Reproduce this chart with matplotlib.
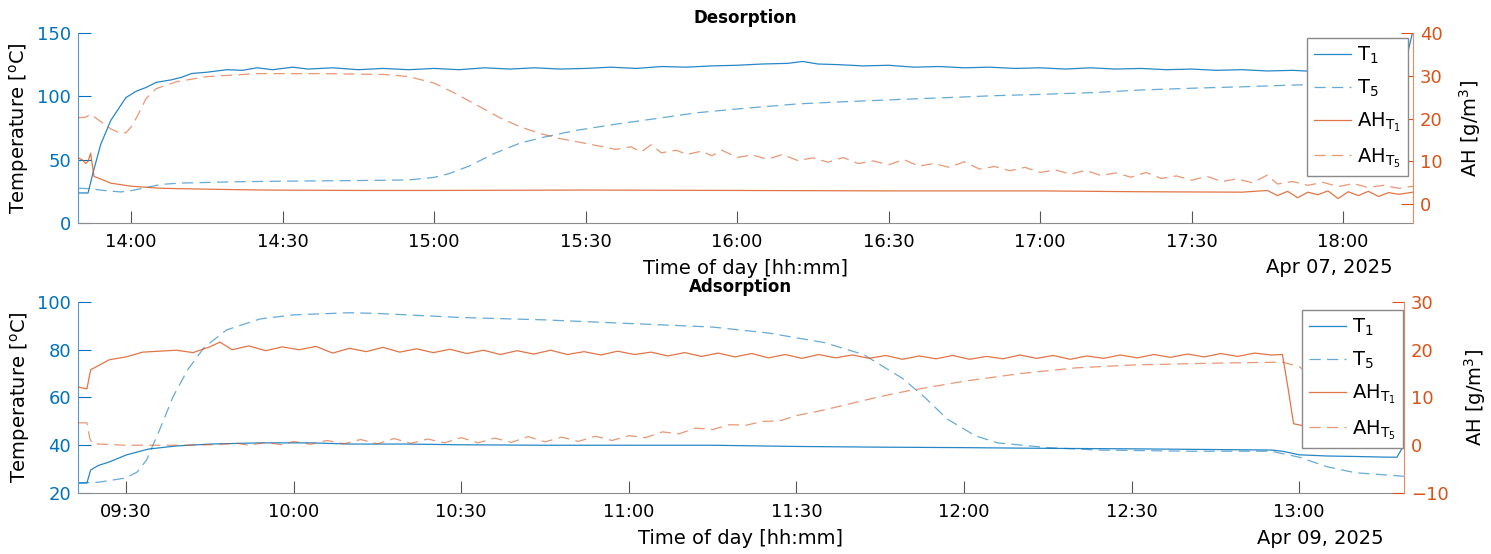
import matplotlib.dates as mdates
import matplotlib.pyplot as plt
import pandas as pd

BLUE = "#0072BD"
ORANGE = "#D95319"

plt.rcParams["font.family"] = "DejaVu Sans"
plt.rcParams["mathtext.default"] = "regular"

# ---- Desorption, 7 April 2025 ----
des_day = "2025-04-07"
des_xlim = ("13:49:30", "18:13:50")

des_t1_time = ["13:49:30", "13:51:30", "13:52:30", "13:54", "13:56", "13:58", "13:59",
               "14:01", "14:03", "14:05", "14:08", "14:10", "14:12", "14:15", "14:19",
               "14:22", "14:25", "14:28", "14:32", "14:35", "14:40", "14:45", "14:50",
               "14:55", "15:00", "15:05", "15:10", "15:15", "15:20", "15:25", "15:30",
               "15:35", "15:40", "15:45", "15:50", "15:55", "16:00", "16:05", "16:10",
               "16:13", "16:16", "16:20", "16:25", "16:30", "16:35", "16:40", "16:45",
               "16:50", "16:55", "17:00", "17:05", "17:10", "17:15", "17:20", "17:25",
               "17:30", "17:35", "17:40", "17:45", "17:50", "17:55", "18:00", "18:05",
               "18:10", "18:12", "18:13:50"]
des_t1 = [23.7, 23.7, 40, 62, 81, 93, 99,
          104, 107, 111, 113, 115, 118, 119, 121,
          120.5, 122.5, 121, 123, 121.5, 122.5, 121, 122,
          121, 122, 121, 122.5, 121.5, 122.5, 121.5, 122,
          123, 122, 123.5, 123, 124, 124.5, 125.5, 126,
          127.5, 125.5, 125, 124, 124.5, 123, 123.5, 122.5,
          123, 122, 122.5, 121.5, 122.5, 121.5, 122, 121,
          121.5, 120.5, 121, 120, 120.5, 119.5, 120.5, 119.5,
          120.5, 121, 152]

des_t5_time = ["13:49:30", "13:52", "13:55", "13:58", "14:00", "14:03", "14:06", "14:10",
               "14:20", "14:30", "14:45", "14:55", "15:00", "15:03", "15:07", "15:12",
               "15:17", "15:22", "15:28", "15:36", "15:45", "15:52", "16:00", "16:12",
               "16:20", "16:32", "16:45", "16:51", "17:00", "17:11", "17:20", "17:31",
               "17:40", "17:51", "18:00", "18:10", "18:11", "18:12"]
des_t5 = [27.5, 27, 25.5, 24.5, 25.5, 28, 30.5, 31.5,
          32.5, 33, 33.5, 34, 36, 39, 45, 55,
          63, 68, 73, 78, 83, 87, 90, 94,
          95.5, 97.5, 99.5, 100.5, 101.5, 103, 105, 106.5,
          107.5, 109, 109.5, 110.5, 104, 92]

des_ah1_time = ["13:49:30", "13:50:30", "13:51", "13:51:30", "13:52", "13:52:40", "13:55",
                "13:56", "14:00", "14:06", "14:15", "14:26", "14:45", "15:00", "15:30",
                "16:00", "16:30", "17:00", "17:20", "17:40", "17:45", "17:47", "17:49",
                "17:51", "17:53", "17:55", "17:57", "17:59", "18:01", "18:03", "18:05",
                "18:07", "18:09", "18:11", "18:13:50"]
des_ah1 = [10.9, 10.2, 9.5, 10.0, 11.9, 6.5, 5.4,
           4.9, 4.2, 3.7, 3.5, 3.3, 3.2, 3.2, 3.3,
           3.2, 3.1, 3.1, 2.9, 2.8, 3.2, 2.0, 3.0,
           1.5, 2.8, 2.2, 3.1, 1.3, 2.9, 2.0, 3.0,
           1.8, 2.7, 2.3, 2.8]

des_ah5_time = ["13:49:30", "13:51", "13:52", "13:54", "13:56", "13:58", "13:59", "14:00",
                "14:01", "14:03", "14:05", "14:09", "14:15", "14:25", "14:38", "14:50",
                "14:55", "15:00", "15:04", "15:09", "15:13", "15:17", "15:21", "15:25",
                "15:30", "15:36", "15:39", "15:41", "15:43", "15:45", "15:48", "15:50",
                "15:53", "15:55", "15:57", "16:00", "16:03", "16:06", "16:09", "16:12",
                "16:15", "16:18", "16:21", "16:24", "16:27", "16:30", "16:33", "16:36",
                "16:39", "16:42", "16:45", "16:48", "16:51", "16:54", "16:57", "17:00",
                "17:03", "17:06", "17:09", "17:12", "17:15", "17:18", "17:21", "17:24",
                "17:27", "17:30", "17:33", "17:36", "17:39", "17:42", "17:45", "17:47",
                "17:50", "17:53", "17:56", "17:59", "18:02", "18:05", "18:08", "18:11",
                "18:13:50"]
des_ah5 = [20.2, 20.3, 21, 19.3, 17.6, 16.5, 16.7, 18.0,
           20, 24.7, 27, 28.6, 29.8, 30.5, 30.5, 30.3,
           29.8, 28.3, 26, 22.8, 20.2, 18.1, 16.5, 15.3,
           14.2, 12.8, 13.4, 12.2, 13.9, 12.0, 12.6, 11.6,
           12.4, 11.3, 12.6, 10.9, 11.5, 10.5, 11.6, 10.2,
           10.8, 9.8, 10.9, 9.5, 10.1, 9.2, 10.4, 8.9,
           9.5, 8.6, 9.9, 8.2, 8.8, 7.8, 8.6, 7.4,
           8.0, 7.0, 7.9, 6.7, 7.3, 6.3, 7.4, 6.0,
           6.6, 5.6, 6.5, 5.3, 5.9, 5.0, 6.8, 4.7,
           5.3, 4.4, 5.1, 4.1, 4.8, 3.9, 4.4, 3.7,
           4.2]

# ---- Adsorption, 9 April 2025 ----
ads_day = "2025-04-09"
ads_xlim = ("09:21:24", "13:18:45")

ads_t1_time = ["09:21:24", "09:23", "09:23:40", "09:25", "09:27", "09:30", "09:34", "09:39",
               "09:45", "09:54", "10:03", "10:10", "10:20", "10:30", "10:45", "11:00",
               "11:15", "11:30", "11:45", "12:00", "12:15", "12:30", "12:45", "12:55",
               "12:57", "13:00", "13:05", "13:10", "13:16", "13:17:30", "13:18:45"]
ads_t1 = [24.2, 24.2, 29.6, 31.5, 33, 35.9, 38.4, 39.7,
          40.5, 41, 41, 40.5, 40.5, 40.2, 40, 40,
          40, 39.5, 39.2, 39, 38.7, 38.5, 38.2, 38,
          37.5, 36, 35.5, 35.3, 35, 35, 40]

ads_t5_time = ["09:21:24", "09:25", "09:30", "09:32", "09:33:40", "09:36", "09:38:24",
               "09:41", "09:44", "09:48", "09:54", "10:00", "10:10", "10:15", "10:30",
               "10:45", "11:00", "11:15", "11:25", "11:35", "11:42", "11:49", "11:53",
               "11:57", "12:02", "12:06", "12:15", "12:24", "12:40", "12:55", "13:00",
               "13:05", "13:10", "13:18:45"]
ads_t5 = [24.2, 24.5, 26.3, 28.8, 33.8, 46.4, 60.2,
          71.5, 81, 88.3, 92.9, 94.6, 95.5, 95.2, 93.5,
          92.5, 91, 89.5, 87, 83, 78, 68, 60,
          51, 44, 41, 39, 38, 37.5, 37.5, 35,
          31, 28.5, 27]

ads_ah1_time = ["09:21:24", "09:23", "09:23:40", "09:27", "09:30", "09:33", "09:39", "09:42",
                "09:45", "09:46:48", "09:49", "09:52", "09:55", "09:58", "10:01", "10:04",
                "10:07", "10:10", "10:13", "10:16", "10:19", "10:22", "10:25", "10:28",
                "10:31", "10:34", "10:37", "10:40", "10:43", "10:46", "10:49", "10:52",
                "10:55", "10:58", "11:01", "11:04", "11:07", "11:10", "11:13", "11:16",
                "11:19", "11:22", "11:25", "11:28", "11:31", "11:34", "11:37", "11:40",
                "11:43", "11:46", "11:49", "11:52", "11:55", "11:58", "12:01", "12:04",
                "12:07", "12:10", "12:13", "12:16", "12:19", "12:22", "12:25", "12:28",
                "12:31", "12:34", "12:37", "12:40", "12:43", "12:46", "12:49", "12:52",
                "12:55", "12:57", "12:58", "12:59", "13:02", "13:08", "13:14", "13:18:45"]
ads_ah1 = [12.2, 11.8, 15.8, 17.9, 18.5, 19.5, 19.9, 19.4,
           20.6, 21.6, 20.0, 20.8, 19.8, 20.6, 20.0, 20.7,
           19.3, 20.3, 19.6, 20.5, 19.5, 20.2, 19.4, 20.1,
           19.2, 19.9, 19.0, 19.8, 19.1, 19.9, 19.0, 19.6,
           18.9, 19.7, 19.0, 19.5, 18.7, 19.4, 18.6, 19.3,
           18.5, 19.2, 18.3, 19.0, 18.2, 19.0, 18.3, 18.9,
           18.2, 18.8, 18.0, 18.7, 18.1, 18.8, 18.0, 18.6,
           18.1, 18.9, 18.2, 18.8, 18.0, 18.7, 18.2, 18.9,
           18.3, 19.0, 18.4, 19.1, 18.5, 19.2, 18.6, 19.3,
           18.9, 19.0, 12.0, 4.5, 3.8, 4.0, 4.2, 4.3]

ads_ah5_time = ["09:21:24", "09:23", "09:23:30", "09:24", "09:30", "09:40", "09:45", "09:50",
                "09:52", "09:55", "09:58", "10:00", "10:03", "10:06", "10:09", "10:12",
                "10:15", "10:18", "10:21", "10:24", "10:27", "10:30", "10:33", "10:36",
                "10:39", "10:42", "10:45", "10:48", "10:51", "10:54", "10:57", "11:00",
                "11:03", "11:06", "11:09", "11:12", "11:15", "11:18", "11:21", "11:24",
                "11:27", "11:30", "11:35", "11:40", "11:45", "11:50", "12:00", "12:10",
                "12:20", "12:30", "12:45", "12:57", "13:00", "13:02", "13:05", "13:08",
                "13:12", "13:18:45"]
ads_ah5 = [4.7, 4.7, 1.5, 0.3, 0.0, 0.0, 0.1, 0.4,
           0.0, 0.6, 0.1, 0.8, 0.2, 1.0, 0.3, 1.2,
           0.3, 1.4, 0.4, 1.3, 0.5, 1.6, 0.5, 1.5,
           0.6, 1.8, 0.7, 1.7, 0.8, 1.9, 1.0, 2.0,
           1.6, 2.8, 2.4, 3.6, 3.3, 4.3, 4.2, 5.0,
           5.1, 6.2, 7.4, 8.8, 10.2, 11.4, 13.4, 15.0,
           16.2, 16.8, 17.2, 17.4, 16.5, 14.5, 10.5, 8.0,
           6.8, 6.3]


def stamps(day, times):
    return pd.to_datetime([f"{day} {t}" for t in times], format="mixed")


def panel(fig, rect, day, xlim, series, ylim_l, yticks_l, ylim_r, yticks_r,
          title, date_text, legend_anchor):
    """One yyaxis-style panel: temperatures on the left, humidity on the right."""
    ax = fig.add_axes(rect)
    ax2 = ax.twinx()

    (t1_time, t1), (t5_time, t5), (ah1_time, ah1), (ah5_time, ah5) = series

    h1, = ax.plot(stamps(day, t1_time), t1, color=BLUE, lw=0.9, alpha=0.85, label=r"T$_1$")
    h2, = ax.plot(stamps(day, t5_time), t5, color=BLUE, lw=0.9, alpha=0.6,
                  ls=(0, (9, 5)), label=r"T$_5$")
    h3, = ax2.plot(stamps(day, ah1_time), ah1, color=ORANGE, lw=0.9, alpha=0.8,
                   label=r"AH$_{T_1}$")
    h4, = ax2.plot(stamps(day, ah5_time), ah5, color=ORANGE, lw=0.9, alpha=0.6,
                   ls=(0, (9, 5)), label=r"AH$_{T_5}$")

    ax.set_xlim(stamps(day, xlim))
    ax.set_ylim(ylim_l)
    ax.set_yticks(yticks_l)
    ax2.set_ylim(ylim_r)
    ax2.set_yticks(yticks_r)

    ax.xaxis.set_major_locator(mdates.MinuteLocator(byminute=[0, 30]))
    ax.xaxis.set_major_formatter(mdates.DateFormatter("%H:%M"))

    ax.tick_params(axis="x", direction="in", length=9, width=0.8, color="#555555",
                   labelsize=13, pad=7)
    ax.tick_params(axis="y", direction="in", length=9, width=0.8, colors=BLUE,
                   labelsize=13, pad=5)
    ax2.tick_params(axis="y", direction="in", length=9, width=0.8, colors=ORANGE,
                    labelsize=13, pad=5)

    for a in (ax, ax2):
        a.spines["top"].set_visible(False)
    ax.spines["right"].set_visible(False)
    ax2.spines["left"].set_visible(False)
    ax2.spines["bottom"].set_visible(False)
    ax.spines["left"].set_color("#4f9bd3")
    ax2.spines["right"].set_color("#e98a63")
    ax.spines["bottom"].set_color("#8c8c8c")

    ax.set_ylabel(r"Temperature [$^o$C]", fontsize=14)
    ax2.set_ylabel(r"AH [g/m$^3$]", fontsize=14, rotation=90, labelpad=10)
    ax.set_xlabel("Time of day [hh:mm]", fontsize=14, labelpad=6)
    ax.set_title(title, fontsize=12, fontweight="bold", pad=7)

    ax.annotate(date_text, xy=(1, 0), xycoords="axes fraction", xytext=(-20, -45),
                textcoords="offset pixels", ha="right", va="center", fontsize=14)

    leg = ax2.legend(handles=[h1, h2, h3, h4], loc="upper right",
                     bbox_to_anchor=legend_anchor, borderaxespad=0, fontsize=14,
                     handlelength=1.9, handletextpad=0.3, borderpad=0.35,
                     labelspacing=0.6, fancybox=False,
                     framealpha=1, edgecolor="#8a8a8a")
    leg.get_frame().set_linewidth(1.0)
    return ax, ax2


fig = plt.figure(figsize=(14.91, 5.54), dpi=100)

panel(fig, [0.0523, 0.5975, 0.8954, 0.343], des_day, des_xlim,
      [(des_t1_time, des_t1), (des_t5_time, des_t5),
       (des_ah1_time, des_ah1), (des_ah5_time, des_ah5)],
      (0, 150), [0, 50, 100, 150], (-4.4, 40), [0, 10, 20, 30, 40],
      "Desorption", "Apr 07, 2025", (0.996, 0.974))

panel(fig, [0.0523, 0.1101, 0.8893, 0.3448], ads_day, ads_xlim,
      [(ads_t1_time, ads_t1), (ads_t5_time, ads_t5),
       (ads_ah1_time, ads_ah1), (ads_ah5_time, ads_ah5)],
      (20, 100), [20, 40, 60, 80, 100], (-10, 30), [-10, 0, 10, 20, 30],
      "Adsorption", "Apr 09, 2025", (0.999, 0.958))

fig.savefig("out.png", dpi=100)
